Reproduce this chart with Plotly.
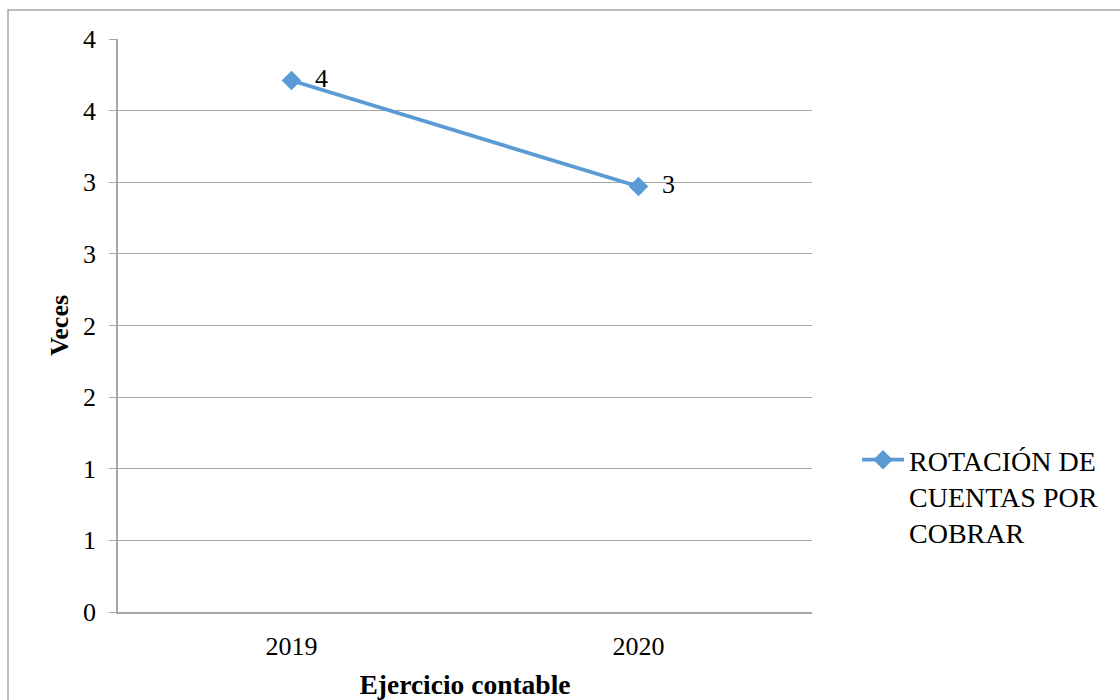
import plotly.graph_objects as go

# Accounts receivable turnover per fiscal year
years = ["2019", "2020"]
rotacion = [3.71, 2.97]
serie = "ROTACIÓN DE<br>CUENTAS POR<br>COBRAR"

y_ticks = [0, 0.5, 1, 1.5, 2, 2.5, 3, 3.5, 4]
y_labels = ["0", "1", "1", "2", "2", "3", "3", "4", "4"]

FONT = "Liberation Serif, Times New Roman, serif"
BLUE = "#5B9BD5"
GRID = "#A6A6A6"

fig = go.Figure()
fig.add_trace(go.Scatter(
    x=years, y=rotacion, name=serie,
    mode="lines+markers+text",
    line=dict(color=BLUE, width=3.8),
    marker=dict(symbol="diamond", size=15, color=BLUE),
    texttemplate="\u00a0\u00a0%{y:.0f}",
    textposition="middle right",
    textfont=dict(family=FONT, size=26, color="black"),
    cliponaxis=False,
))

L, R, T, B = 118, 812, 39, 612
W, H = 1120, 700
pw, ph = R - L, B - T

fig.update_layout(
    width=W, height=H,
    margin=dict(l=L, r=W - R, t=T, b=H - B, autoexpand=False),
    paper_bgcolor="white", plot_bgcolor="white",
    font=dict(family=FONT, size=26, color="black"),
    showlegend=True,
    legend=dict(x=(857 - L) / pw, y=(B - 435) / ph, xanchor="left", yanchor="top",
                valign="top",
                font=dict(family=FONT, size=28, color="black"),
                itemwidth=42, tracegroupgap=0, bgcolor="rgba(0,0,0,0)"),
    xaxis=dict(
        type="category", range=[-0.5, 1.5], automargin=False,
        showline=True, linecolor=GRID, linewidth=1.5,
        showgrid=False, ticks="", ticklen=0, ticklabelstandoff=10,
        tickfont=dict(family=FONT, size=26),
        title=dict(text="<b>Ejercicio contable</b>", font=dict(family=FONT, size=27.5), standoff=30),
        zeroline=False,
    ),
    yaxis=dict(
        range=[0, 4], tickvals=y_ticks, ticktext=y_labels, automargin=False,
        showline=True, linecolor=GRID, linewidth=1.5,
        showgrid=True, gridcolor=GRID, gridwidth=1.2,
        ticks="outside", ticklen=7, tickcolor=GRID, tickwidth=1.2,
        ticklabelstandoff=8,
        tickfont=dict(family=FONT, size=26),
        title=dict(text="<b>Veces</b>", font=dict(family=FONT, size=26), standoff=7),
        zeroline=False,
    ),
    shapes=[dict(
        type="rect", xref="paper", yref="paper",
        x0=(8 - L) / pw, x1=(W + 10 - L) / pw,
        y0=-(H + 10 - B) / ph, y1=1 + (T - 10) / ph,
        line=dict(color="#A6A6A6", width=1.5), fillcolor="rgba(0,0,0,0)",
        layer="below",
    )],
)

fig.write_html("out.html")
